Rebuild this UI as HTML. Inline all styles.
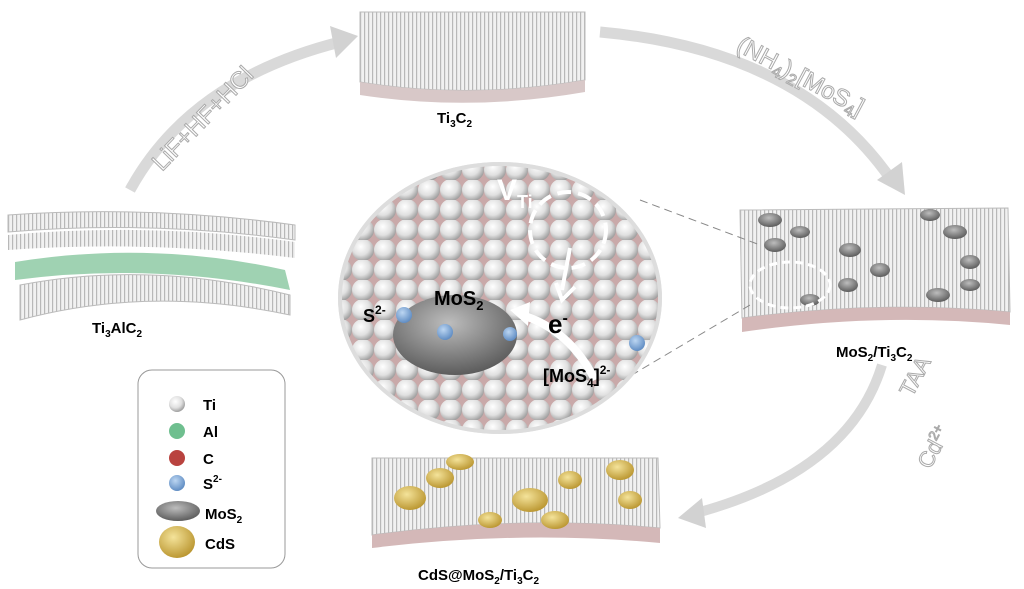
<!DOCTYPE html>
<html><head><meta charset="utf-8"><style>
html,body{margin:0;padding:0;background:#fff;}
svg{display:block;font-family:"Liberation Sans",Arial,sans-serif;}
</style></head><body>
<svg width="1024" height="589" viewBox="0 0 1024 589" xmlns="http://www.w3.org/2000/svg">
<defs>
<pattern id="stripe" width="4" height="10" patternUnits="userSpaceOnUse">
<rect width="4" height="10" fill="#f1f1f1"/><rect width="1.2" height="10" fill="#b8b8b8"/>
</pattern>
<radialGradient id="ball" cx="0.4" cy="0.35" r="0.65">
<stop offset="0" stop-color="#ffffff"/><stop offset="0.6" stop-color="#e0e0e0"/><stop offset="1" stop-color="#a0a0a0"/>
</radialGradient>
<pattern id="balls" width="22" height="20" patternUnits="userSpaceOnUse">
<rect width="22" height="20" fill="#c9a9a9"/>
<circle cx="11" cy="10" r="11" fill="url(#ball)"/>
</pattern>
<radialGradient id="blue" cx="0.4" cy="0.35" r="0.7"><stop offset="0" stop-color="#bcd6f2"/><stop offset="1" stop-color="#5a88c0"/></radialGradient>
<radialGradient id="gray" cx="0.45" cy="0.35" r="0.7"><stop offset="0" stop-color="#bdbdbd"/><stop offset="1" stop-color="#555"/></radialGradient>
<radialGradient id="gold" cx="0.4" cy="0.35" r="0.7"><stop offset="0" stop-color="#f4e39a"/><stop offset="1" stop-color="#b8932c"/></radialGradient>
<clipPath id="cc"><ellipse cx="500" cy="298" rx="160" ry="134"/></clipPath>
</defs>

<!-- arrows -->
<path d="M130 190 Q190 80 340 42" fill="none" stroke="#d9d9d9" stroke-width="11"/>
<polygon points="358,36 330,26 336,58" fill="#d2d2d2"/>
<path d="M600 32 Q800 50 890 178" fill="none" stroke="#d9d9d9" stroke-width="11"/>
<polygon points="905,195 877,180 902,162" fill="#d2d2d2"/>
<path d="M882 365 Q850 470 700 512" fill="none" stroke="#d9d9d9" stroke-width="10"/>
<polygon points="678,518 702,498 706,528" fill="#d2d2d2"/>

<text transform="translate(162,172) rotate(-46)" font-size="24" fill="#fff" stroke="#aaa" stroke-width="1">LiF+HF+HCl</text>
<text transform="translate(735,50) rotate(28)" font-size="24" fill="#fff" stroke="#aaa" stroke-width="1">(NH<tspan font-size="16" dy="5">4</tspan><tspan dy="-5">)</tspan><tspan font-size="16" dy="5">2</tspan><tspan dy="-5">[MoS</tspan><tspan font-size="16" dy="5">4</tspan><tspan dy="-5">]</tspan></text>
<text transform="translate(912,398) rotate(-62)" font-size="22" fill="#fff" stroke="#aaa">TAA</text>
<text transform="translate(930,470) rotate(-62)" font-size="22" fill="#fff" stroke="#aaa">Cd<tspan font-size="14" dy="-8">2+</tspan></text>

<!-- top slab -->
<path d="M360 12 L585 12 L585 80 Q470 100 360 82 Z" fill="url(#stripe)" stroke="#bbb"/>
<path d="M360 82 Q470 100 585 80 L585 92 Q470 112 360 95 Z" fill="#d8c8c8"/>
<text x="437" y="123" font-size="15" font-weight="bold">Ti<tspan font-size="10" dy="4">3</tspan><tspan dy="-4">C</tspan><tspan font-size="10" dy="4">2</tspan></text>

<!-- left slab -->
<path d="M8 215 Q150 205 295 225 L295 240 Q150 220 8 232 Z" fill="url(#stripe)" stroke="#bbb"/>
<path d="M8 235 Q150 222 295 242 L295 258 Q150 240 8 250 Z" fill="url(#stripe)"/>
<path d="M15 262 Q150 240 285 270 L290 290 Q150 262 15 280 Z" fill="#9fd2b2"/>
<path d="M20 285 Q150 260 290 295 L290 315 Q150 285 20 320 Z" fill="url(#stripe)" stroke="#bbb"/>
<text x="92" y="333" font-size="15" font-weight="bold">Ti<tspan font-size="10" dy="4">3</tspan><tspan dy="-4">AlC</tspan><tspan font-size="10" dy="4">2</tspan></text>

<!-- right slab -->
<path d="M740 210 L1008 208 L1010 312 Q880 300 742 318 Z" fill="url(#stripe)" stroke="#bbb"/>
<path d="M742 318 Q880 300 1010 312 L1010 325 Q880 312 742 332 Z" fill="#d4b8b8"/>
<g fill="url(#gray)">
<ellipse cx="770" cy="220" rx="12" ry="7"/><ellipse cx="775" cy="245" rx="11" ry="7"/><ellipse cx="800" cy="232" rx="10" ry="6"/>
<ellipse cx="850" cy="250" rx="11" ry="7"/><ellipse cx="880" cy="270" rx="10" ry="7"/><ellipse cx="955" cy="232" rx="12" ry="7"/>
<ellipse cx="970" cy="262" rx="10" ry="7"/><ellipse cx="938" cy="295" rx="12" ry="7"/><ellipse cx="970" cy="285" rx="10" ry="6"/>
<ellipse cx="848" cy="285" rx="10" ry="7"/><ellipse cx="810" cy="300" rx="10" ry="6"/><ellipse cx="930" cy="215" rx="10" ry="6"/>
</g>
<ellipse cx="790" cy="285" rx="40" ry="23" fill="none" stroke="#fff" stroke-width="3" stroke-dasharray="8 5"/>
<text x="836" y="357" font-size="15" font-weight="bold">MoS<tspan font-size="10" dy="4">2</tspan><tspan dy="-4">/Ti</tspan><tspan font-size="10" dy="4">3</tspan><tspan dy="-4">C</tspan><tspan font-size="10" dy="4">2</tspan></text>

<!-- zoom lines -->
<line x1="640" y1="200" x2="760" y2="245" stroke="#888" stroke-dasharray="8 5"/>
<line x1="620" y1="382" x2="750" y2="305" stroke="#888" stroke-dasharray="8 5"/>

<!-- bottom slab -->
<path d="M372 458 L658 458 L660 528 Q520 515 372 535 Z" fill="url(#stripe)" stroke="#bbb"/>
<path d="M372 535 Q520 515 660 528 L660 543 Q520 530 372 548 Z" fill="#d4b8b8"/>
<g fill="url(#gold)">
<ellipse cx="410" cy="498" rx="16" ry="12"/><ellipse cx="440" cy="478" rx="14" ry="10"/><ellipse cx="460" cy="462" rx="14" ry="8"/>
<ellipse cx="530" cy="500" rx="18" ry="12"/><ellipse cx="555" cy="520" rx="14" ry="9"/><ellipse cx="570" cy="480" rx="12" ry="9"/>
<ellipse cx="620" cy="470" rx="14" ry="10"/><ellipse cx="630" cy="500" rx="12" ry="9"/><ellipse cx="490" cy="520" rx="12" ry="8"/>
</g>
<text x="418" y="580" font-size="15" font-weight="bold">CdS@MoS<tspan font-size="10" dy="4">2</tspan><tspan dy="-4">/Ti</tspan><tspan font-size="10" dy="4">3</tspan><tspan dy="-4">C</tspan><tspan font-size="10" dy="4">2</tspan></text>

<!-- circle -->
<ellipse cx="500" cy="298" rx="162" ry="136" fill="#e8e8e8"/>
<g clip-path="url(#cc)">
<rect x="330" y="160" width="340" height="280" fill="url(#balls)"/>
<ellipse cx="455" cy="335" rx="62" ry="40" fill="url(#gray)"/>
<circle cx="404" cy="315" r="8" fill="url(#blue)"/><circle cx="445" cy="332" r="8" fill="url(#blue)"/>
<circle cx="510" cy="334" r="7" fill="url(#blue)"/><circle cx="637" cy="343" r="8" fill="url(#blue)"/>
<circle cx="427" cy="168" r="6" fill="url(#blue)"/>
</g>
<ellipse cx="500" cy="298" rx="160" ry="134" fill="none" stroke="#ddd" stroke-width="4"/>
<ellipse cx="568" cy="230" rx="38" ry="38" fill="none" stroke="#fff" stroke-width="4" stroke-dasharray="14 7"/>
<path d="M570 248 L562 290 M556 283 L562 300 L575 287" fill="none" stroke="#fff" stroke-width="4"/>
<path d="M595 380 Q570 330 522 315" fill="none" stroke="#fff" stroke-width="8"/>
<polygon points="510,310 530,302 528,326" fill="#fff"/>
<text x="497" y="200" font-size="30" font-weight="bold" fill="#fff">V<tspan font-size="18" dy="8">Ti</tspan></text>
<text x="363" y="322" font-size="18" font-weight="bold">S<tspan font-size="12" dy="-8">2-</tspan></text>
<text x="434" y="305" font-size="20" font-weight="bold">MoS<tspan font-size="13" dy="5">2</tspan></text>
<text x="548" y="333" font-size="26" font-weight="bold">e<tspan font-size="16" dy="-10">-</tspan></text>
<text x="543" y="382" font-size="18" font-weight="bold">[MoS<tspan font-size="12" dy="5">4</tspan><tspan dy="-5">]</tspan><tspan font-size="12" dy="-8">2-</tspan></text>

<!-- legend -->
<rect x="138" y="370" width="147" height="198" rx="14" fill="#fff" stroke="#999"/>
<circle cx="177" cy="404" r="8" fill="url(#ball)"/><text x="203" y="410" font-size="15" font-weight="bold">Ti</text>
<circle cx="177" cy="431" r="8" fill="#6fbf8f"/><text x="203" y="437" font-size="15" font-weight="bold">Al</text>
<circle cx="177" cy="458" r="8" fill="#b9433f"/><text x="203" y="464" font-size="15" font-weight="bold">C</text>
<circle cx="177" cy="483" r="8" fill="url(#blue)"/><text x="203" y="489" font-size="15" font-weight="bold">S<tspan font-size="10" dy="-7">2-</tspan></text>
<ellipse cx="178" cy="511" rx="22" ry="10" fill="url(#gray)"/><text x="205" y="519" font-size="15" font-weight="bold">MoS<tspan font-size="10" dy="4">2</tspan></text>
<ellipse cx="177" cy="542" rx="18" ry="16" fill="url(#gold)"/><text x="205" y="549" font-size="15" font-weight="bold">CdS</text>
</svg>
</body></html>
